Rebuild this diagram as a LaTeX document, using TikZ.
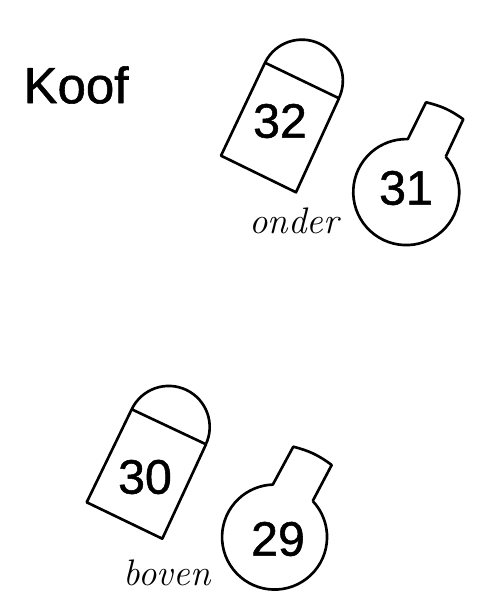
\documentclass[tikz,border=0pt]{standalone}
\usepackage{fontspec}
\setsansfont{Liberation Sans}
\usepackage{tikz}
\usetikzlibrary{positioning,calc}

\begin{document}
\begin{tikzpicture}[x=0.2mm,y=0.2mm,line join=round,
    outline/.style={draw,line width=1.5pt},
    number/.style={font=\sffamily\fontsize{27.5}{30}\selectfont\addfontfeature{FakeBold=1.1}},
    side/.style={font=\itshape\fontsize{21}{24}\selectfont\addfontfeature{FakeBold=0.4}}]
\useasboundingbox (0,0) rectangle (486,607);
\node[font=\sffamily\fontsize{29}{32}\selectfont\addfontfeature{FakeBold=1.1}] (title) at (76,522) {Koof};

% upper pair
\coordinate (A1) at (221,451.3);
\coordinate (A2) at (296,414.7);
\coordinate (A3) at (339,508.7);
\coordinate (A4) at (265,544.3);
\draw[outline] (A4) -- (A1) -- (A2) -- (A3) -- (A4) arc[start angle=154,end angle=-26,radius=41];
\node[number] (n32) at (280,486) {32};
\coordinate (B1) at (445.7,450.3);
\coordinate (B2) at (408.3,468.7);
\coordinate (B3) at (426,504.7);
\coordinate (B4) at (463.3,487.7);
\draw[outline] (B1) arc[start angle=41.9,end angle=-271.7,radius=53] -- (B3) to[bend left=11] (B4) -- (B1);
\node[number] (n31) at (406,419) {31};
\node[side] (onder) at (294,386) {onder};

% lower pair
\coordinate (C1) at (86.7,104.7);
\coordinate (C2) at (162.3,68.3);
\coordinate (C3) at (206,162.7);
\coordinate (C4) at (131.7,197.7);
\draw[outline] (C4) -- (C1) -- (C2) -- (C3) -- (C4) arc[start angle=154.5,end angle=-25.5,radius=41];
\node[number] (n30) at (145,130) {30};
\coordinate (D1) at (312.7,106);
\coordinate (D2) at (275,123.7);
\coordinate (D3) at (293.3,160.3);
\coordinate (D4) at (331.7,142);
\draw[outline] (D1) arc[start angle=43.4,end angle=-268.1,radius=52.5] -- (D3) to[bend left=11] (D4) -- (D1);
\node[number] (n29) at (278,68) {29};
\node[side] (boven) at (167,34) {boven};
\end{tikzpicture}
\end{document}
